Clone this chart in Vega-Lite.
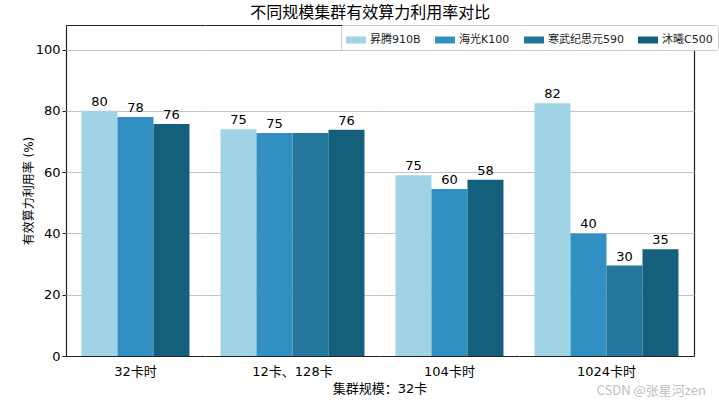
{
  "$schema": "https://vega.github.io/schema/vega-lite/v6.json",
  "description": "Grouped bars: effective compute utilisation by cluster size and accelerator.",
  "padding": {"left": 22, "right": 14, "top": 4, "bottom": 2},
  "title": {
    "text": "不同规模集群有效算力利用率对比",
    "font": "Noto Sans CJK SC",
    "fontSize": 16,
    "fontWeight": "normal",
    "color": "black",
    "anchor": "middle",
    "offset": 4
  },
  "vconcat": [
    {
      "title": {
        "text": "CSDN @张星河zen",
        "orient": "bottom",
        "anchor": "end",
        "font": "Noto Sans CJK SC",
        "fontSize": 13,
        "fontWeight": "normal",
        "color": "#c0c0c0",
        "offset": -11,
        "dx": 12
      },
      "data": {
        "values": [
          {"group": "32卡时", "series": "昇腾910B", "value": 80, "label": "80"},
          {"group": "32卡时", "series": "海光K100", "value": 78, "label": "78"},
          {"group": "32卡时", "series": "沐曦C500", "value": 75.7, "label": "76"},
          {"group": "12卡、128卡", "series": "昇腾910B", "value": 74, "label": "75"},
          {"group": "12卡、128卡", "series": "海光K100", "value": 72.8, "label": "75"},
          {"group": "12卡、128卡", "series": "寒武纪思元590", "value": 72.8, "label": ""},
          {"group": "12卡、128卡", "series": "沐曦C500", "value": 73.8, "label": "76"},
          {"group": "104卡时", "series": "昇腾910B", "value": 59, "label": "75"},
          {"group": "104卡时", "series": "海光K100", "value": 54.5, "label": "60"},
          {"group": "104卡时", "series": "沐曦C500", "value": 57.5, "label": "58"},
          {"group": "1024卡时", "series": "昇腾910B", "value": 82.5, "label": "82"},
          {"group": "1024卡时", "series": "海光K100", "value": 40, "label": "40"},
          {"group": "1024卡时", "series": "寒武纪思元590", "value": 29.5, "label": "30"},
          {"group": "1024卡时", "series": "沐曦C500", "value": 34.8, "label": "35"}
        ]
      },
      "facet": {
        "column": {
          "field": "group",
          "type": "nominal",
          "sort": ["32卡时", "12卡、128卡", "104卡时", "1024卡时"],
          "title": "集群规模：32卡",
          "header": {
            "labelOrient": "bottom",
            "titleOrient": "bottom",
            "labelFont": "DejaVu Sans, Noto Sans CJK SC",
            "titleFont": "DejaVu Sans, Noto Sans CJK SC",
            "labelFontSize": 13,
            "titleFontSize": 13,
            "titleFontWeight": "normal",
            "labelColor": "black",
            "titleColor": "black",
            "labelPadding": 10,
            "titlePadding": -6
          }
        }
      },
      "spacing": 0,
      "resolve": {"scale": {"x": "independent"}},
      "spec": {
        "width": {"step": 36},
        "height": 331,
        "layer": [
          {
            "mark": {"type": "bar"},
            "encoding": {
              "x": {
                "field": "series",
                "type": "nominal",
                "sort": ["昇腾910B", "海光K100", "寒武纪思元590", "沐曦C500"],
                "scale": {"paddingInner": 0, "paddingOuter": 0.43},
                "axis": {"orient": "bottom", "labels": false, "ticks": false, "title": null, "domainColor": "#222", "domainWidth": 1.2}
              },
              "y": {
                "field": "value",
                "type": "quantitative",
                "scale": {"domain": [0, 108], "nice": false},
                "axis": {
                  "orient": "left",
                  "values": [0, 20, 40, 60, 80, 100],
                  "title": "有效算力利用率 (%)",
                  "titleFont": "DejaVu Sans, Noto Sans CJK SC",
                  "titleFontSize": 12,
                  "titleFontWeight": "normal",
                  "titleColor": "black",
                  "titlePadding": 0,
                  "labelFont": "DejaVu Sans",
                  "labelFontSize": 13,
                  "labelColor": "black",
                  "tickColor": "#222",
                  "tickSize": 4,
                  "domainColor": "#222",
                  "domainWidth": 1.2,
                  "grid": true,
                  "gridColor": "#c4c4c4",
                  "gridWidth": 1
                }
              },
              "color": {
                "field": "series",
                "type": "nominal",
                "scale": {
                  "domain": ["昇腾910B", "海光K100", "寒武纪思元590", "沐曦C500"],
                  "range": ["#9fd3e5", "#3190c1", "#23779c", "#145f7b"]
                },
                "legend": {
                  "orient": "none",
                  "legendX": 275,
                  "legendY": 0,
                  "direction": "horizontal",
                  "columns": 4,
                  "title": null,
                  "symbolType": "M-1,-0.35H1V0.35H-1Z",
                  "symbolSize": 400,
                  "symbolStrokeWidth": 0,
                  "labelFont": "DejaVu Sans, Noto Sans CJK SC",
                  "labelFontSize": 11,
                  "labelColor": "#222",
                  "columnPadding": 14,
                  "padding": 5,
                  "strokeColor": "#cccccc",
                  "fillColor": "white",
                  "cornerRadius": 2
                }
              }
            }
          },
          {
            "mark": {"type": "text", "dy": -9, "font": "DejaVu Sans", "fontSize": 13, "color": "black"},
            "encoding": {
              "x": {
                "field": "series",
                "type": "nominal",
                "sort": ["昇腾910B", "海光K100", "寒武纪思元590", "沐曦C500"],
                "axis": {"orient": "top", "labels": false, "ticks": false, "title": null, "domainColor": "#222", "domainWidth": 1.2}
              },
              "y": {
                "field": "value",
                "type": "quantitative",
                "axis": {"orient": "right", "labels": false, "ticks": false, "title": null, "grid": false, "domainColor": "#222", "domainWidth": 1.2}
              },
              "text": {"field": "label"}
            }
          }
        ]
      }
    }
  ],
  "config": {
    "view": {"stroke": null},
    "background": "white"
  }
}
